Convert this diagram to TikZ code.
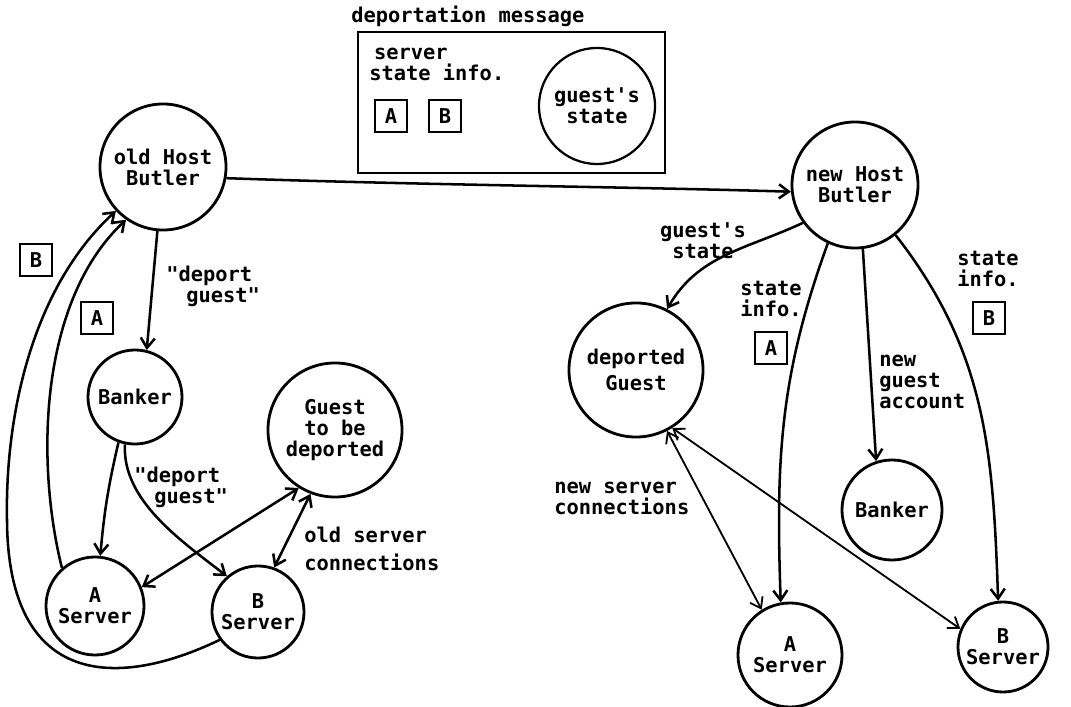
\documentclass[tikz,border=0pt]{standalone}
\usepackage{fontspec}
\setmonofont{DejaVu Sans Mono}
\usetikzlibrary{arrows.meta}

\begin{document}
\begin{tikzpicture}[x=0.025cm, y=0.025cm, line width=1.8pt,
  every node/.style={font=\ttfamily\bfseries\fontsize{14.5}{15}\selectfont, inner sep=0pt},
  >={Straight Barb[length=7pt,width=10pt]},
  proc/.style={circle, draw, line width=2pt, align=center},
  tag/.style={draw, line width=1.6pt, minimum size=0.8cm}]
  \useasboundingbox (0,0) rectangle (1071,-707);
  % old host side
  \node[proc, minimum size=3.15cm] (oldhb) at (163,-167) {old Host\\Butler};
  \node[proc, minimum size=2.35cm] (bankl) at (135,-397) {Banker};
  \node[proc, minimum size=3.35cm] (gtbd) at (335,-430) {Guest\\to be\\deported};
  \node[proc, minimum size=2.45cm] (asrvl) at (95,-606) {A\\Server};
  \node[proc, minimum size=2.3cm] (bsrvl) at (258,-612) {B\\Server};
  \node[tag] (tagbl) at (36,-260) {B};
  \node[tag] (tagal) at (97,-318) {A};
  \node[anchor=north west, align=left] (dep1) at (165,-265) {"deport\\\hspace{0.5cm}guest"};
  \node[anchor=north west, align=left] (dep2) at (133,-466) {"deport\\\hspace{0.5cm}guest"};
  \node[anchor=north west, align=left] (oldcon) at (303,-526) {old server\\[5pt]connections};
  % the message
  \node[anchor=base west] (msgtitle) at (350,-23) {deportation message};
  \node[draw, minimum width=7.675cm, minimum height=3.525cm] (msgbox) at (511.5,-102.5) {};
  \node[anchor=north west, align=left] (msginfo) at (368,-47) {\hspace{0.12cm}server\\state info.};
  \node[tag] (taga) at (391,-116) {A};
  \node[tag] (tagb) at (445,-116) {B};
  \node[proc, minimum size=2.9cm, line width=1.6pt] (gstate) at (597,-106) {guest's\\state};
  % new host side
  \node[proc, minimum size=3.15cm] (newhb) at (855,-185) {new Host\\Butler};
  \node[proc, minimum size=3.35cm] (dguest) at (636,-370) {deported\\[4pt]Guest};
  \node[proc, minimum size=2.5cm] (bankr) at (892,-510) {Banker};
  \node[proc, minimum size=2.6cm] (asrvr) at (790,-655) {A\\Server};
  \node[proc, minimum size=2.25cm] (bsrvr) at (1003,-647) {B\\Server};
  \node[anchor=north, align=center] (gslab) at (703,-221) {guest's\\state};
  \node[anchor=north, align=center] (infoa) at (771,-280) {state\\info.};
  \node[tag] (tagar) at (771,-348) {A};
  \node[anchor=north, align=center] (infob) at (988,-250) {state\\info.};
  \node[tag] (tagbr) at (989,-318) {B};
  \node[anchor=north west, align=left] (acct) at (878,-354) {new\\guest\\account};
  \node[anchor=north west, align=left] (newcon) at (553,-481) {new server\\connections};

  \draw[->] (oldhb.-10) .. controls (420,-185) and (640,-187) .. (newhb.186);
  \draw[->] (oldhb.265) -- (bankl.76);
  \draw[->] (bankl.250) to[bend right=4] (asrvl.84);
  \draw[->] (bankl.258) .. controls (122,-500) and (180,-540) .. (bsrvl.131);
  \draw[<->] (asrvl.22) -- (gtbd.238);
  \draw[<->] (bsrvl.70) -- (gtbd.249);
  \draw[->] (asrvl.131) .. controls (35,-460) and (40,-300) .. (oldhb.235);
  \draw[->] (bsrvl.216) .. controls (120,-688) and (8,-690) .. (7,-520)
    .. controls (5,-420) and (30,-290) .. (oldhb.223);
  \draw[->] (newhb.216) to[out=205, in=60] (dguest.63);
  \draw[->] (newhb.245) to[out=250, in=92] (asrvr.100);
  \draw[->] (newhb.277) -- (bankr.108);
  \draw[->] (newhb.309) to[out=-52, in=92] (bsrvr.96);
  \draw[<->, line width=1.3pt] (dguest.297) -- (asrvr.122);
  \draw[<->, line width=1.3pt] (dguest.302) -- (bsrvr.157);
\end{tikzpicture}
\end{document}
